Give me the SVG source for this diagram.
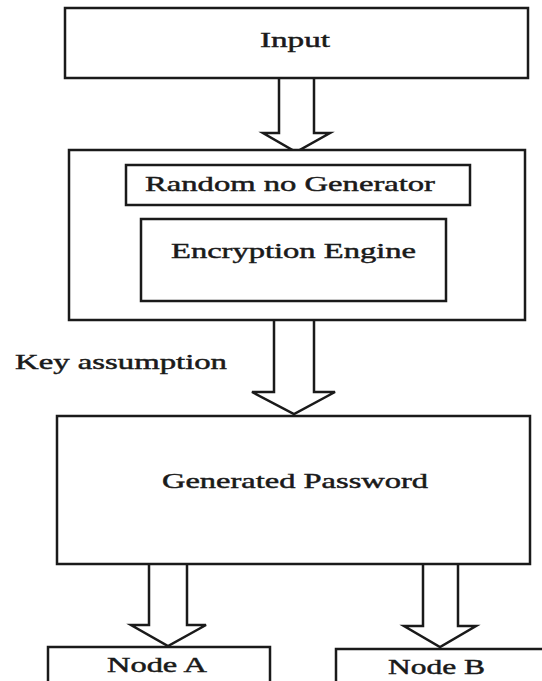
<svg xmlns="http://www.w3.org/2000/svg" width="542" height="681" viewBox="0 0 542 681">
<style>
.box{fill:#fff;stroke:#1a1a1a;stroke-width:2.5}
.arr{fill:#fff;stroke:#1a1a1a;stroke-width:2.5;stroke-linejoin:miter}
.t{font-family:"Liberation Serif","Times New Roman",serif;font-size:21px;fill:#1a1a1a;stroke:#1a1a1a;stroke-width:0.45}
</style>
<rect width="542" height="681" fill="#fff"/>
<g id="connectors">
<path class="arr" d="M279,78 V133 H263 L296,152 L330,133 H314 V78"/>
<path class="arr" d="M274,321 V392 H252 L294,414 L335,392 H314 V321"/>
<path class="arr" d="M149,564 V625 H131 L168,646 L206,625 H187 V564"/>
<path class="arr" d="M423,564 V626 H404 L440,647 L476,626 H458 V564"/>
</g>
<g id="input">
<rect class="box" x="65" y="8" width="463" height="70"/>
<text class="t" x="260" y="47" textLength="70" lengthAdjust="spacingAndGlyphs">Input</text>
</g>
<g id="processor">
<rect class="box" x="69" y="150" width="456" height="170"/>
</g>
<g id="random">
<rect class="box" x="126" y="165" width="344" height="40"/>
<text class="t" x="145" y="191" textLength="290" lengthAdjust="spacingAndGlyphs">Random no Generator</text>
</g>
<g id="encryption">
<rect class="box" x="141" y="219" width="305" height="82"/>
<text class="t" x="171" y="258" textLength="245" lengthAdjust="spacingAndGlyphs">Encryption Engine</text>
</g>
<g id="key-label">
<text class="t" x="15" y="369" textLength="212" lengthAdjust="spacingAndGlyphs">Key assumption</text>
</g>
<g id="password">
<rect class="box" x="57" y="416" width="473" height="148"/>
<text class="t" x="162" y="488" textLength="266" lengthAdjust="spacingAndGlyphs">Generated Password</text>
</g>
<g id="nodeA">
<rect class="box" x="48" y="647" width="222" height="40"/>
<text class="t" x="107" y="672" textLength="100" lengthAdjust="spacingAndGlyphs">Node A</text>
</g>
<g id="nodeB">
<rect class="box" x="336" y="649" width="212" height="40"/>
<text class="t" x="388" y="674" textLength="97" lengthAdjust="spacingAndGlyphs">Node B</text>
</g>
</svg>
